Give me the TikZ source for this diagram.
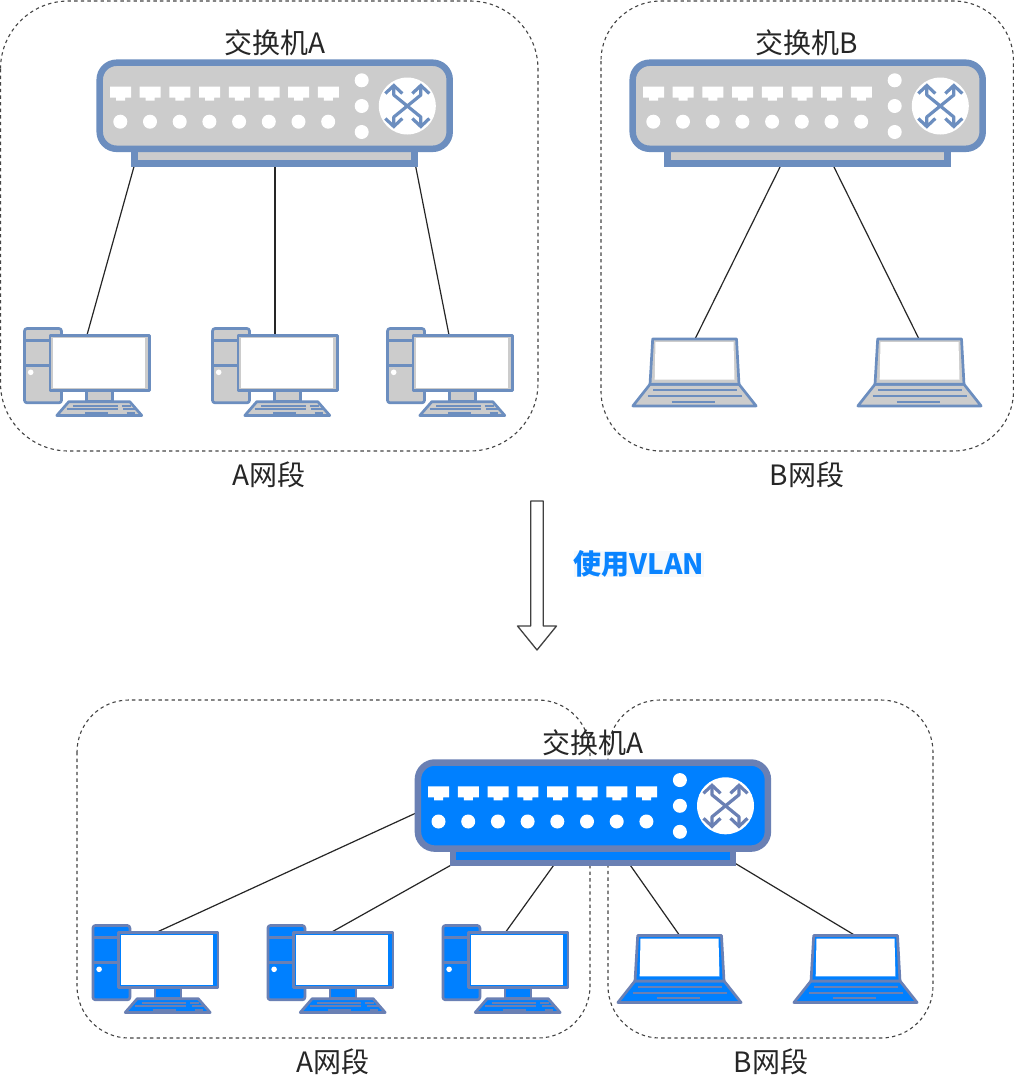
\documentclass[tikz,border=0pt]{standalone}
\usepackage{fontspec}
\setmainfont{Noto Sans CJK SC}
\definecolor{greyfill}{HTML}{CCCCCC}
\definecolor{greyline}{HTML}{6C8EBF}
\definecolor{bluefill}{HTML}{0080FF}
\definecolor{blueline}{HTML}{6A80B4}
\definecolor{vlanblue}{HTML}{0A84FF}
\definecolor{vlanback}{HTML}{F6F9FC}
\definecolor{dashgrey}{HTML}{444444}
\colorlet{devfill}{greyfill}
\colorlet{devline}{greyline}
\tikzset{
  zone/.style={draw=dashgrey,line width=1.1pt,dash pattern=on 3.4pt off 3.2pt},
  link/.style={draw=black!85,line width=1.2pt},
  label/.style={font=\fontsize{28}{32}\selectfont,text=black!85,inner sep=0pt},
  devshape/.style={draw=devline,fill=devfill,line width=2.7pt,line join=round},
  devkey/.style={draw=devline,line width=2.2pt},
  pics/switchbox/.style={code={
    \draw[draw=devline,fill=devfill,line width=6.3pt] (38,85) rectangle (318,104);
    \draw[draw=devline,fill=devfill,line width=6.5pt,rounded corners=17pt] (3.2,3.2) rectangle (353.2,89.3);
    \foreach \i in {0,...,7}{
      \fill[white] ({13.5+29.7*\i},27) -- ++(21,0) -- ++(0,11) -- ++(-6,0) -- ++(0,3) -- ++(-9,0) -- ++(0,-3) -- ++(-6,0) -- cycle;
      \fill[white] ({23.8+29.7*\i},62.2) circle[radius=7];
    }
    \foreach \y in {20.8,46.5,72.5}{\fill[white] (265.2,\y) circle[radius=7];}
    \fill[white] (310.8,46.5) circle[radius=28.5];
    \begin{scope}[shift={(310.8,46.5)}]
      \foreach \sx/\sy in {1/1,1/-1,-1/1,-1/-1}{
        \draw[draw=devline,line width=3.2pt,line join=round] (0,0) -- ({\sx*13.5},{\sy*11}) -- ({\sx*13.5},{\sy*20});
        \draw[draw=devline,line width=3.2pt,line join=miter] ({\sx*5},{\sy*12.5}) -- ({\sx*13.5},{\sy*20.5}) -- ({\sx*22},{\sy*12.5});
      }
    \end{scope}
  }},
  pics/desktop/.style={code={
    \draw[devshape,rounded corners=2.5pt] (1.2,1.2) rectangle (38.2,75.5);
    \draw[devline,line width=2.7pt] (1.2,13.4) -- (27,13.4) (1.2,38.4) -- (27,38.4);
    \fill[white] (7.4,45) circle[radius=2.8];
    \draw[devshape] (63.4,63) rectangle (89.4,74.4);
    \draw[devshape] (26.6,7.9) rectangle (126.2,63.2);
    \fill[white] (29.6,10.9) rectangle (121.4,60.4);
    \draw[devshape] (45.5,74.4) -- (106.5,74.4) -- (118.5,88.2) -- (33.5,88.2) -- cycle;
    \draw[devkey] (50,78.4) -- (94.7,78.4) (98.4,78.4) -- (107.4,78.4)
      (43.4,82) -- (94.7,82) (100,82) -- (112,82)
      (61.7,85.7) -- (84.7,85.7) (103.4,85.7) -- (111.7,85.7);
  }},
  pics/laptop/.style={code={
    \draw[devshape] (18.3,46.6) -- (107.3,46.6) -- (124.4,68.2) -- (1.2,68.2) -- cycle;
    \draw[devshape] (21,1.2) -- (104.8,1.2) -- (107.3,46.6) -- (18.3,46.6) -- cycle;
    \fill[white] (23.8,4.3) -- (101.8,4.3) -- (102.8,42) -- (23,42) -- cycle;
    \draw[devkey] (21.6,52.3) -- (105.6,52.3) (15.9,58.3) -- (110.6,58.3) (40,64) -- (83.3,64);
  }}
}
\begin{document}
\begin{tikzpicture}[x=1pt,y=-1pt]
\useasboundingbox (0,0) rectangle (1014,1080);
\fill[white] (0,0) rectangle (1014,1080);
% zones
\draw[zone,rounded corners=68pt] (0.5,1) rectangle (538,451);
\draw[zone,rounded corners=60pt] (601,1) rectangle (1013.5,451);
\draw[zone,rounded corners=52pt] (77,700) rectangle (590,1038);
\draw[zone,rounded corners=52pt] (608,700) rectangle (933,1038);
% connector ends
\coordinate (a1) at (135,163); \coordinate (a1e) at (87,335);
\coordinate (a2) at (275,163); \coordinate (a2e) at (275,335);
\coordinate (a3) at (415,163); \coordinate (a3e) at (449,335);
\coordinate (b1) at (782,163); \coordinate (b1e) at (695,339);
\coordinate (b2) at (832,163); \coordinate (b2e) at (919,339);
\coordinate (c1) at (416,813); \coordinate (c1e) at (155,933);
\coordinate (c2) at (453,864); \coordinate (c2e) at (330,933);
\coordinate (c3) at (556,862); \coordinate (c3e) at (505,933);
\coordinate (c4) at (628,862); \coordinate (c4e) at (680,936);
\coordinate (c5) at (733,862); \coordinate (c5e) at (856,936);
\draw[link] (a1) -- (a1e); \draw[link] (a2) -- (a2e); \draw[link] (a3) -- (a3e);
\draw[link] (b1) -- (b1e); \draw[link] (b2) -- (b2e);
\draw[link] (c1) -- (c1e); \draw[link] (c2) -- (c2e); \draw[link] (c3) -- (c3e);
\draw[link] (c4) -- (c4e); \draw[link] (c5) -- (c5e);
% grey devices
\pic at (96.5,59.5) {switchbox};
\pic at (629.5,59.5) {switchbox};
\pic at (23.3,327.3) {desktop};
\pic at (211.3,327.3) {desktop};
\pic at (386.3,327.3) {desktop};
\pic at (631.7,337.7) {laptop};
\pic at (856.7,337.7) {laptop};
% blue devices
\begin{scope}
\colorlet{devfill}{bluefill}
\colorlet{devline}{blueline}
\pic at (414.7,759.3) {switchbox};
\pic at (91.7,924.3) {desktop};
\pic at (266.7,924.3) {desktop};
\pic at (441.7,924.3) {desktop};
\pic at (616.7,934.3) {laptop};
\pic at (792.7,934.3) {laptop};
\end{scope}
% big arrow
\draw[draw=black!75,fill=white,line width=1.3pt,line join=round]
  (530.7,501) -- (543.3,501) -- (543.3,626) -- (556.5,626) -- (537,650) -- (517.5,626) -- (530.7,626) -- cycle;
% labels
\node[label] (swAtitle) at (275,43) {交换机A};
\node[label] (swBtitle) at (807,43) {交换机B};
\node[label] (netA) at (269,475) {A网段};
\node[label] (netB) at (807,475) {B网段};
\node[label,fill=vlanback,text=vlanblue,font=\fontsize{28}{32}\selectfont\bfseries,inner xsep=0pt,inner ysep=0pt] (vlan) at (639,564) {使用VLAN};
\node[label] (swCtitle) at (593,743) {交换机A};
\node[label] (netA2) at (333,1062) {A网段};
\node[label] (netB2) at (771,1062) {B网段};
\end{tikzpicture}
\end{document}
